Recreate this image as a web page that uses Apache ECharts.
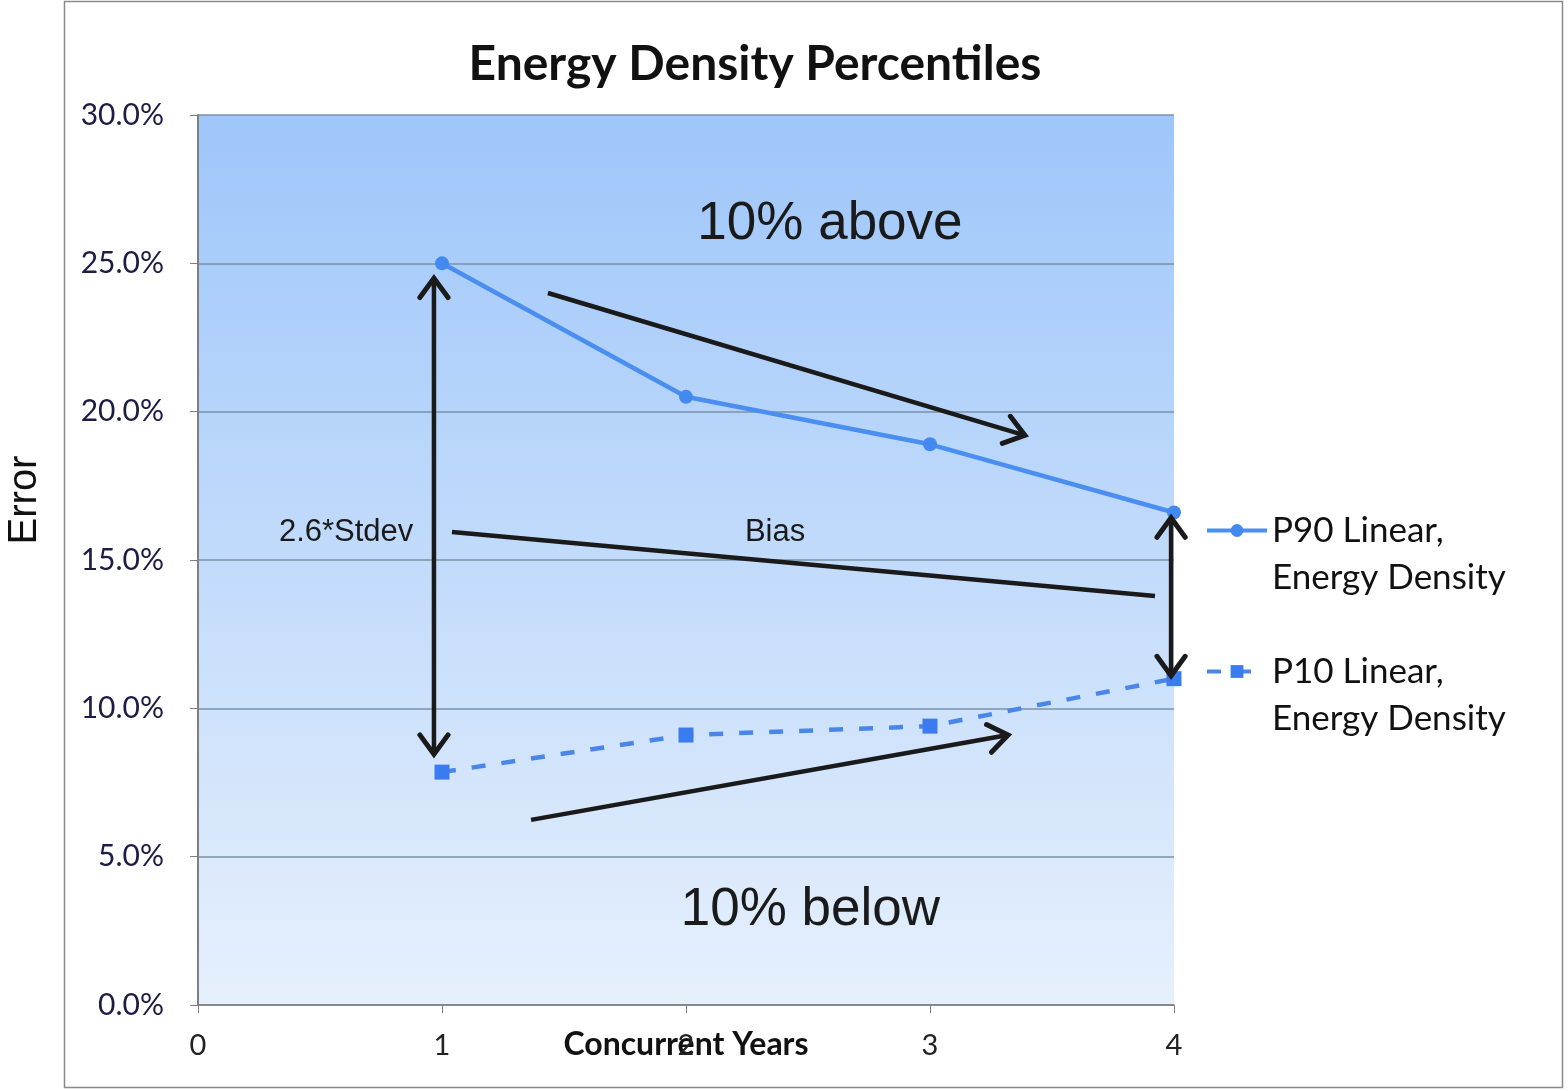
<!DOCTYPE html>
<html>
<head>
<meta charset="utf-8">
<script src="https://cdn.jsdelivr.net/npm/echarts@6/dist/echarts.min.js"></script>
<style>
html,body{margin:0;padding:0;background:#fff;}
#main{width:1568px;height:1091px;}
</style>
</head>
<body>
<div id="main"></div>
<script>
// ---- data ----
var years = [1, 2, 3, 4];
var p90 = [25.0, 20.5, 18.9, 16.6];
var p10 = [7.85, 9.1, 9.4, 11.0];
var seriesNames = ['P90 Linear,\nEnergy Density', 'P10 Linear,\nEnergy Density'];
var xTicks = [0, 1, 2, 3, 4];
var yTicks = [0, 5, 10, 15, 20, 25, 30];

// annotations in data coordinates [x, y%]
var arrowStdev = [[0.967, 24.5], [0.967, 8.45]];     // double-headed
var arrowUpper = [[1.434, 24.0], [3.389, 19.2]];     // head at end
var lineBias = [[1.041, 15.94], [3.922, 13.79]];     // no head
var arrowRight = [[3.988, 16.42], [3.988, 11.1]];    // double-headed
var arrowLower = [[1.365, 6.24], [3.32, 9.1]];       // head at end
var labelTexts = ['10% above', '10% below', '2.6*Stdev', 'Bias'];
var labelPos = [[2.59, 26.3], [2.51, 3.2], [0.607, 15.94], [2.365, 15.94]];

var chart = echarts.init(document.getElementById('main'), null, {renderer: 'canvas'});

var option = {
  animation: false,
  backgroundColor: '#ffffff',
  title: {
    text: 'Energy Density Percentiles',
    left: 750, top: 36,
    textAlign: 'center',
    textStyle: {fontFamily: 'Lato', fontWeight: 'bold', fontSize: 48, color: '#111'}
  },
  grid: {
    left: 198, top: 115, right: 394, bottom: 86,
    show: true,
    borderWidth: 0,
    backgroundColor: new echarts.graphic.LinearGradient(0, 0, 0, 1, [
      {offset: 0, color: '#9ec6fa'},
      {offset: 1, color: '#e6f0fc'}
    ])
  },
  legend: {
    orient: 'vertical',
    left: 1205, top: 460,
    itemWidth: 60, itemHeight: 16, itemGap: 0, itemNameGap: 3,
    padding: 0,
    data: seriesNames,
    lineStyle: {width: 4},
    formatter: function (n) { return ' \n' + n; },
    textStyle: {fontFamily: 'Lato', fontSize: 35, color: '#111', lineHeight: 47}
  },
  xAxis: {
    type: 'value',
    min: 0, max: 4, interval: 1,
    name: 'Concurrent Years',
    nameLocation: 'middle',
    nameGap: 24,
    nameMoveOverlap: false,
    nameTextStyle: {fontFamily: 'Lato', fontWeight: 'bold', fontSize: 32, color: '#111'},
    axisLine: {show: true, lineStyle: {color: '#7f7f7f', width: 1.5}},
    axisTick: {show: true, length: 8, lineStyle: {color: '#7f7f7f'}},
    axisLabel: {fontFamily: 'Lato', fontSize: 29, color: '#222', margin: 26},
    splitLine: {show: false}
  },
  yAxis: {
    type: 'value',
    min: 0, max: 30, interval: 5,
    axisLine: {show: true, lineStyle: {color: '#7f7f7f', width: 2}},
    axisTick: {show: true, length: 8, lineStyle: {color: '#7f7f7f'}},
    axisLabel: {fontFamily: 'Lato', fontSize: 30, color: '#1c1c45', margin: 34,
      formatter: function (v) { return v.toFixed(1) + '%'; }},
    splitLine: {show: true, lineStyle: {color: '#7893a6', width: 1.5}}
  },
  series: [
    {
      name: seriesNames[0],
      type: 'line',
      data: years.map(function (x, i) { return [x, p90[i]]; }),
      symbol: 'circle', symbolSize: 14,
      lineStyle: {color: '#4a8ef0', width: 4.5},
      itemStyle: {color: '#428af0'},
      z: 3
    },
    {
      name: seriesNames[1],
      type: 'line',
      data: years.map(function (x, i) { return [x, p10[i]]; }),
      symbol: 'rect', symbolSize: 15,
      lineStyle: {color: '#4a86ea', width: 4.5, type: [14, 16]},
      itemStyle: {color: '#3b7bf0'},
      z: 3
    }
  ]
};
chart.setOption(option);

function px(p) { return chart.convertToPixel({xAxisIndex: 0, yAxisIndex: 0}, p); }

function head(tip, from, len) {
  var dx = from[0] - tip[0], dy = from[1] - tip[1];
  var d = Math.sqrt(dx * dx + dy * dy);
  var ux = dx / d, uy = dy / d;
  var a = 36 * Math.PI / 180;
  var c = Math.cos(a), s = Math.sin(a);
  var p1 = [tip[0] + len * (ux * c - uy * s), tip[1] + len * (ux * s + uy * c)];
  var p2 = [tip[0] + len * (ux * c + uy * s), tip[1] + len * (-ux * s + uy * c)];
  return {type: 'polyline', shape: {points: [p1, tip, p2]},
    style: {stroke: '#1a1a1a', lineWidth: 5, fill: null, lineJoin: 'miter', lineCap: 'round'}, z: 10};
}
function seg(a, b) {
  return {type: 'line', shape: {x1: a[0], y1: a[1], x2: b[0], y2: b[1]},
    style: {stroke: '#1a1a1a', lineWidth: 4.5}, z: 10};
}

var g = [];
// outer frame
g.push({type: 'rect', shape: {x: 64.5, y: 1.5, width: 1498, height: 1086},
  style: {stroke: '#8a8a8a', lineWidth: 1.5, fill: null}, z: 0, silent: true});
// y axis name
g.push({type: 'text', x: 25, y: 500, rotation: Math.PI / 2,
  style: {text: 'Error', fontFamily: 'Liberation Sans', fontSize: 40, fill: '#111',
    align: 'center', verticalAlign: 'middle'}, z: 10});

function addArrow(pts, startHead, endHead) {
  var a = px(pts[0]), b = px(pts[1]);
  g.push(seg(a, b));
  if (endHead) g.push(head(b, a, 24));
  if (startHead) g.push(head(a, b, 24));
}
addArrow(arrowStdev, true, true);
addArrow(arrowUpper, false, true);
addArrow(lineBias, false, false);
addArrow(arrowRight, true, true);
addArrow(arrowLower, false, true);

var sizes = [53, 53, 31, 31];
labelTexts.forEach(function (t, i) {
  var p = px(labelPos[i]);
  g.push({type: 'text', x: p[0], y: p[1],
    style: {text: t, fontFamily: 'Liberation Sans', fontSize: sizes[i], fill: '#1a1a1a',
      align: 'center', verticalAlign: 'middle'}, z: 10});
});

chart.setOption({graphic: {elements: g}});
</script>
</body>
</html>
